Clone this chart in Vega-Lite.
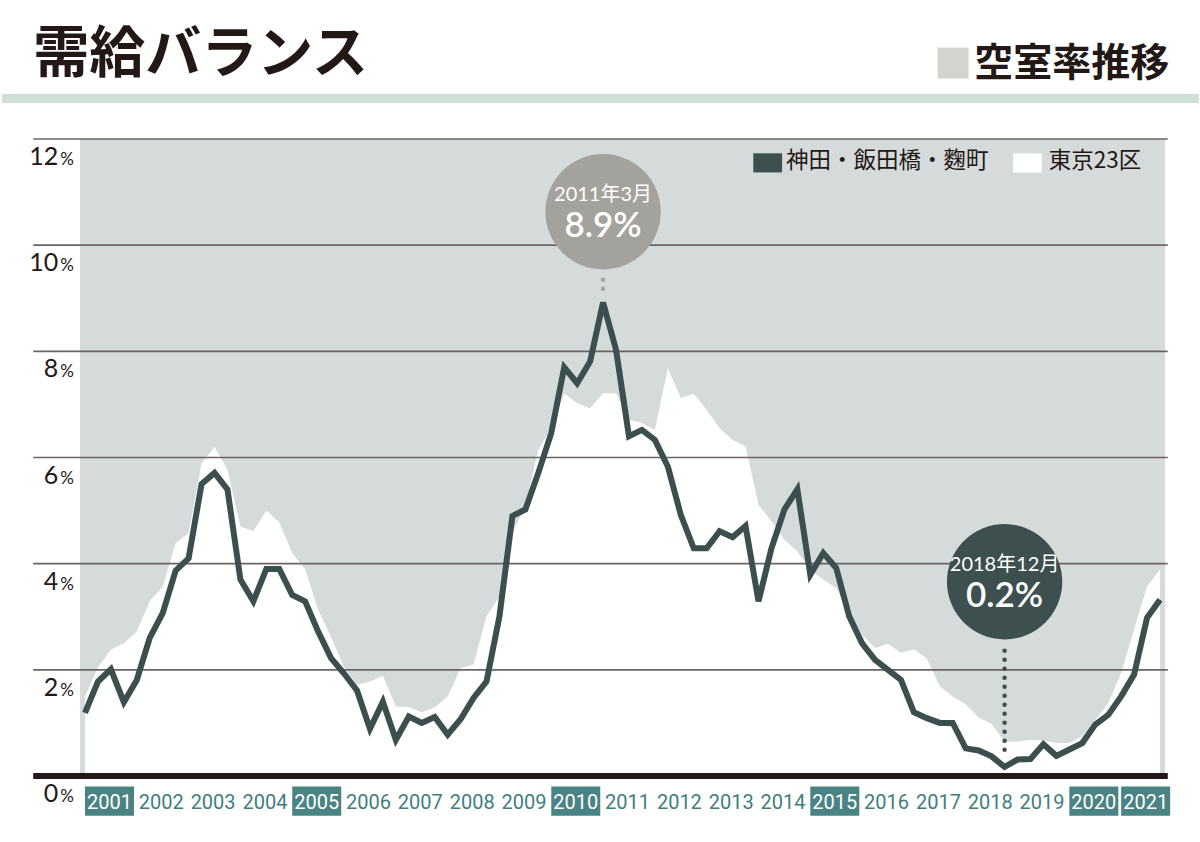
{
 "$schema": "https://vega.github.io/schema/vega-lite/v6.json",
 "width": 1085,
 "height": 637,
 "autosize": {"type": "none"},
 "padding": {"left": 80, "top": 139, "right": 35, "bottom": 66},
 "background": "#ffffff",
 "config": {"view": {"fill": "#d5dadb", "stroke": null}},
 "datasets": {
  "series": [
   {"t": 2001.0, "kanda": 1.19, "tokyo": 1.5},
   {"t": 2001.25, "kanda": 1.78, "tokyo": 2.05},
   {"t": 2001.5, "kanda": 2.01, "tokyo": 2.38},
   {"t": 2001.75, "kanda": 1.39, "tokyo": 2.5},
   {"t": 2002.0, "kanda": 1.81, "tokyo": 2.72},
   {"t": 2002.25, "kanda": 2.6, "tokyo": 3.29},
   {"t": 2002.5, "kanda": 3.07, "tokyo": 3.57},
   {"t": 2002.75, "kanda": 3.87, "tokyo": 4.39},
   {"t": 2003.0, "kanda": 4.1, "tokyo": 4.58},
   {"t": 2003.25, "kanda": 5.5, "tokyo": 5.89},
   {"t": 2003.5, "kanda": 5.71, "tokyo": 6.2},
   {"t": 2003.75, "kanda": 5.4, "tokyo": 5.77},
   {"t": 2004.0, "kanda": 3.7, "tokyo": 4.7},
   {"t": 2004.25, "kanda": 3.29, "tokyo": 4.61},
   {"t": 2004.5, "kanda": 3.9, "tokyo": 5.0},
   {"t": 2004.75, "kanda": 3.9, "tokyo": 4.78},
   {"t": 2005.0, "kanda": 3.41, "tokyo": 4.2},
   {"t": 2005.25, "kanda": 3.29, "tokyo": 3.89},
   {"t": 2005.5, "kanda": 2.72, "tokyo": 3.13},
   {"t": 2005.75, "kanda": 2.22, "tokyo": 2.62},
   {"t": 2006.0, "kanda": 1.93, "tokyo": 2.05},
   {"t": 2006.25, "kanda": 1.61, "tokyo": 1.72},
   {"t": 2006.5, "kanda": 0.89, "tokyo": 1.78},
   {"t": 2006.75, "kanda": 1.4, "tokyo": 1.89},
   {"t": 2007.0, "kanda": 0.68, "tokyo": 1.31},
   {"t": 2007.25, "kanda": 1.12, "tokyo": 1.3},
   {"t": 2007.5, "kanda": 1.0, "tokyo": 1.2},
   {"t": 2007.75, "kanda": 1.11, "tokyo": 1.29},
   {"t": 2008.0, "kanda": 0.78, "tokyo": 1.5},
   {"t": 2008.25, "kanda": 1.07, "tokyo": 2.03},
   {"t": 2008.5, "kanda": 1.47, "tokyo": 2.1},
   {"t": 2008.75, "kanda": 1.78, "tokyo": 3.01},
   {"t": 2009.0, "kanda": 3.01, "tokyo": 3.38},
   {"t": 2009.25, "kanda": 4.9, "tokyo": 4.58},
   {"t": 2009.5, "kanda": 5.02, "tokyo": 5.08},
   {"t": 2009.75, "kanda": 5.71, "tokyo": 6.15},
   {"t": 2010.0, "kanda": 6.46, "tokyo": 6.55},
   {"t": 2010.25, "kanda": 7.7, "tokyo": 7.21},
   {"t": 2010.5, "kanda": 7.4, "tokyo": 7.02},
   {"t": 2010.75, "kanda": 7.81, "tokyo": 6.93},
   {"t": 2011.0, "kanda": 8.92, "tokyo": 7.21},
   {"t": 2011.25, "kanda": 8.03, "tokyo": 7.21},
   {"t": 2011.5, "kanda": 6.4, "tokyo": 6.71},
   {"t": 2011.75, "kanda": 6.52, "tokyo": 6.65},
   {"t": 2012.0, "kanda": 6.33, "tokyo": 6.52},
   {"t": 2012.25, "kanda": 5.83, "tokyo": 7.68},
   {"t": 2012.5, "kanda": 4.92, "tokyo": 7.12},
   {"t": 2012.75, "kanda": 4.29, "tokyo": 7.2},
   {"t": 2013.0, "kanda": 4.29, "tokyo": 6.9},
   {"t": 2013.25, "kanda": 4.61, "tokyo": 6.55},
   {"t": 2013.5, "kanda": 4.5, "tokyo": 6.33},
   {"t": 2013.75, "kanda": 4.71, "tokyo": 6.21},
   {"t": 2014.0, "kanda": 3.29, "tokyo": 5.11},
   {"t": 2014.25, "kanda": 4.29, "tokyo": 4.8},
   {"t": 2014.5, "kanda": 5.02, "tokyo": 4.45},
   {"t": 2014.75, "kanda": 5.4, "tokyo": 4.23},
   {"t": 2015.0, "kanda": 3.79, "tokyo": 3.89},
   {"t": 2015.25, "kanda": 4.2, "tokyo": 3.7},
   {"t": 2015.5, "kanda": 3.92, "tokyo": 3.54},
   {"t": 2015.75, "kanda": 3.01, "tokyo": 3.07},
   {"t": 2016.0, "kanda": 2.5, "tokyo": 2.66},
   {"t": 2016.25, "kanda": 2.19, "tokyo": 2.41},
   {"t": 2016.5, "kanda": 2.0, "tokyo": 2.49},
   {"t": 2016.75, "kanda": 1.81, "tokyo": 2.32},
   {"t": 2017.0, "kanda": 1.2, "tokyo": 2.39},
   {"t": 2017.25, "kanda": 1.09, "tokyo": 2.21},
   {"t": 2017.5, "kanda": 1.0, "tokyo": 1.69},
   {"t": 2017.75, "kanda": 1.0, "tokyo": 1.5},
   {"t": 2018.0, "kanda": 0.52, "tokyo": 1.35},
   {"t": 2018.25, "kanda": 0.48, "tokyo": 1.1},
   {"t": 2018.5, "kanda": 0.37, "tokyo": 0.98},
   {"t": 2018.75, "kanda": 0.17, "tokyo": 0.64},
   {"t": 2019.0, "kanda": 0.31, "tokyo": 0.65},
   {"t": 2019.25, "kanda": 0.32, "tokyo": 0.68},
   {"t": 2019.5, "kanda": 0.6, "tokyo": 0.67},
   {"t": 2019.75, "kanda": 0.38, "tokyo": 0.62},
   {"t": 2020.0, "kanda": 0.5, "tokyo": 0.62},
   {"t": 2020.25, "kanda": 0.62, "tokyo": 0.75},
   {"t": 2020.5, "kanda": 0.97, "tokyo": 1.05},
   {"t": 2020.75, "kanda": 1.15, "tokyo": 1.37},
   {"t": 2021.0, "kanda": 1.5, "tokyo": 1.94},
   {"t": 2021.25, "kanda": 1.91, "tokyo": 2.76},
   {"t": 2021.5, "kanda": 2.98, "tokyo": 3.57},
   {"t": 2021.75, "kanda": 3.32, "tokyo": 3.89}
  ],
  "ticks": [
   {"v": 0}, {"v": 2}, {"v": 4}, {"v": 6}, {"v": 8}, {"v": 10}, {"v": 12}
  ],
  "years": [
   {"year": 2001, "hl": true}, {"year": 2002, "hl": false}, {"year": 2003, "hl": false},
   {"year": 2004, "hl": false}, {"year": 2005, "hl": true}, {"year": 2006, "hl": false},
   {"year": 2007, "hl": false}, {"year": 2008, "hl": false}, {"year": 2009, "hl": false},
   {"year": 2010, "hl": true}, {"year": 2011, "hl": false}, {"year": 2012, "hl": false},
   {"year": 2013, "hl": false}, {"year": 2014, "hl": false}, {"year": 2015, "hl": true},
   {"year": 2016, "hl": false}, {"year": 2017, "hl": false}, {"year": 2018, "hl": false},
   {"year": 2019, "hl": false}, {"year": 2020, "hl": true}, {"year": 2021, "hl": true}
  ],
  "notes": [
   {"t": 2011.0, "v": 10.63, "lead_top": 9.35, "lead_end": 9.06, "label": "2011年3月", "value": "8.9%", "kind": "max"},
   {"t": 2018.75, "v": 3.66, "lead_top": 2.36, "lead_end": 0.34, "label": "2018年12月", "value": "0.2%", "kind": "min"}
  ],
  "legend": [
   {"name": "神田・飯田橋・麴町", "x0": 2013.9, "x1": 2014.455, "tx": 2014.53},
   {"name": "東京23区", "x0": 2018.914, "x1": 2019.469, "tx": 2019.603}
  ],
  "header": [{"title": "需給バランス", "text": "空室率推移"}]
 },
 "layer": [
  {
   "data": {"name": "series"},
   "mark": {"type": "area", "color": "#ffffff"},
   "encoding": {
    "x": {"field": "t", "type": "quantitative", "scale": {"domain": [2001, 2021.75], "nice": false, "zero": false}, "axis": null},
    "y": {"field": "tokyo", "type": "quantitative", "scale": {"domain": [0, 12], "nice": false}, "axis": null}
   }
  },
  {
   "data": {"name": "ticks"},
   "mark": {"type": "rule"},
   "encoding": {
    "x": {"datum": 2000.0},
    "x2": {"datum": 2021.9},
    "y": {"field": "v", "type": "quantitative"},
    "color": {"condition": {"test": "datum.v == 0", "value": "#231815"}, "value": "#6b6464"},
    "strokeWidth": {"condition": {"test": "datum.v == 0", "value": 6}, "value": 1.6}
   }
  },
  {
   "data": {"name": "series"},
   "mark": {"type": "line", "color": "#3c4f4f", "strokeWidth": 6},
   "encoding": {
    "x": {"field": "t", "type": "quantitative"},
    "y": {"field": "kanda", "type": "quantitative"}
   }
  },
  {
   "data": {"name": "notes"},
   "mark": {"type": "rule", "strokeWidth": 4.5, "strokeDash": [0, 9], "strokeCap": "round"},
   "encoding": {
    "x": {"field": "t", "type": "quantitative"},
    "y": {"field": "lead_top", "type": "quantitative"},
    "y2": {"field": "lead_end"},
    "color": {"field": "kind", "type": "nominal", "scale": {"domain": ["max", "min"], "range": ["#a3a29c", "#3d4f4f"]}, "legend": null}
   }
  },
  {
   "data": {"name": "notes"},
   "mark": {"type": "point", "shape": "circle", "filled": true, "size": 13300, "opacity": 1},
   "encoding": {
    "x": {"field": "t", "type": "quantitative"},
    "y": {"field": "v", "type": "quantitative"},
    "color": {"field": "kind", "type": "nominal", "legend": null}
   }
  },
  {
   "data": {"name": "notes"},
   "mark": {"type": "text", "color": "#ffffff", "fontSize": 20, "font": "Lato, 'Noto Sans CJK JP'", "dy": -17, "baseline": "middle", "align": "center"},
   "encoding": {
    "x": {"field": "t", "type": "quantitative"},
    "y": {"field": "v", "type": "quantitative"},
    "text": {"field": "label"}
   }
  },
  {
   "data": {"name": "notes"},
   "mark": {"type": "text", "color": "#ffffff", "fontSize": 35, "fontWeight": 600, "font": "Lato", "dy": 14, "baseline": "middle", "align": "center"},
   "encoding": {
    "x": {"field": "t", "type": "quantitative"},
    "y": {"field": "v", "type": "quantitative"},
    "text": {"field": "value"}
   }
  },
  {
   "data": {"name": "legend"},
   "mark": {"type": "rect"},
   "encoding": {
    "x": {"field": "x0", "type": "quantitative"},
    "x2": {"field": "x1"},
    "y": {"datum": 11.73},
    "y2": {"datum": 11.37},
    "fill": {"field": "name", "type": "nominal", "scale": {"domain": ["神田・飯田橋・麴町", "東京23区"], "range": ["#3d4f4f", "#ffffff"]}, "legend": null}
   }
  },
  {
   "data": {"name": "legend"},
   "mark": {"type": "text", "fontSize": 22.5, "font": "Noto Sans CJK JP", "color": "#231815", "align": "left", "baseline": "middle"},
   "encoding": {
    "x": {"field": "tx", "type": "quantitative"},
    "y": {"datum": 11.58},
    "text": {"field": "name"}
   }
  },
  {
   "data": {"name": "ticks"},
   "mark": {"type": "text", "fontSize": 25, "font": "Lato", "color": "#231815", "align": "right", "baseline": "alphabetic", "dy": 26},
   "encoding": {
    "x": {"datum": 2000.483},
    "y": {"field": "v", "type": "quantitative"},
    "text": {"field": "v", "type": "quantitative", "format": "d"}
   }
  },
  {
   "data": {"name": "ticks"},
   "mark": {"type": "text", "fontSize": 17, "font": "Lato", "color": "#231815", "align": "left", "baseline": "alphabetic", "dy": 26},
   "encoding": {
    "x": {"datum": 2000.52},
    "y": {"field": "v", "type": "quantitative"},
    "text": {"value": "%"}
   }
  },
  {
   "data": {"name": "years"},
   "transform": [{"filter": "datum.hl"}],
   "mark": {"type": "bar", "width": 49, "xOffset": 24.5, "color": "#4a8383"},
   "encoding": {
    "x": {"field": "year", "type": "quantitative"},
    "y": {"datum": -0.2},
    "y2": {"datum": -0.75}
   }
  },
  {
   "data": {"name": "years"},
   "mark": {"type": "text", "fontSize": 20, "font": "Roboto", "align": "center", "baseline": "alphabetic", "dx": 24.5},
   "encoding": {
    "x": {"field": "year", "type": "quantitative"},
    "y": {"datum": -0.62},
    "text": {"field": "year", "type": "nominal"},
    "color": {"condition": {"test": "datum.hl", "value": "#ffffff"}, "value": "#3f7e7e"}
   }
  },
  {
   "data": {"name": "header"},
   "mark": {"type": "rect", "color": "#d0e0d6"},
   "encoding": {
    "x": {"datum": 1999.4},
    "x2": {"datum": 2022.5},
    "y": {"datum": 12.85},
    "y2": {"datum": 12.68}
   }
  },
  {
   "data": {"name": "header"},
   "mark": {"type": "text", "fontSize": 56, "fontWeight": "bold", "font": "Noto Sans CJK JP", "color": "#231815", "align": "left", "baseline": "middle"},
   "encoding": {
    "x": {"datum": 2000.0},
    "y": {"datum": 13.58},
    "text": {"field": "title"}
   }
  },
  {
   "data": {"name": "header"},
   "mark": {"type": "point", "shape": "square", "filled": true, "size": 961, "opacity": 1, "color": "#d3d3d0"},
   "encoding": {
    "x": {"datum": 2017.756},
    "y": {"datum": 13.43}
   }
  },
  {
   "data": {"name": "header"},
   "mark": {"type": "text", "fontSize": 39, "fontWeight": "bold", "font": "Noto Sans CJK JP", "color": "#231815", "align": "left", "baseline": "middle"},
   "encoding": {
    "x": {"datum": 2018.167},
    "y": {"datum": 13.42},
    "text": {"field": "text"}
   }
  }
 ]
}
